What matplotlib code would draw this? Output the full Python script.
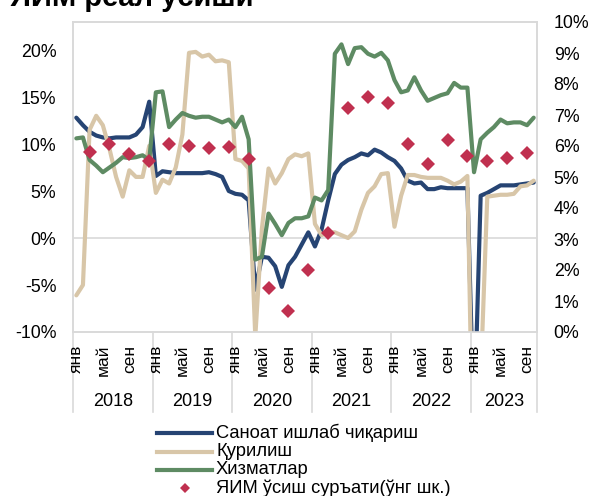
import numpy as np
import matplotlib
matplotlib.use("Agg")
import matplotlib.pyplot as plt
from matplotlib.lines import Line2D
import matplotlib.transforms as mtransforms

plt.rcParams['font.family'] = ['Liberation Sans', 'DejaVu Sans']

# ---------------- data ----------------
years = ['2018', '2019', '2020', '2021', '2022', '2023']
month_labels = ['янв', 'май', 'сен']
month_label_idx = [0, 4, 8]

industry = [12.8, 12.0, 11.3, 10.9, 10.7, 10.6, 10.7, 10.7, 10.7, 11.0, 11.8, 14.5,
            6.6, 7.1, 7.0, 6.9, 6.9, 6.9, 6.9, 6.9, 7.0, 6.8, 6.5, 5.0,
            4.7, 4.6, 4.0, -5.5, -2.0, -2.1, -3.0, -5.2, -2.9, -2.0, -0.7, 0.6,
            -0.9, 0.9, 4.0, 6.8, 7.8, 8.3, 8.6, 9.0, 8.8, 9.4, 9.1, 8.6,
            8.2, 7.4, 6.1, 5.8, 5.9, 5.2, 5.2, 5.4, 5.3, 5.3, 5.3, 5.3,
            -20.0, 4.5, 4.8, 5.2, 5.6, 5.6, 5.6, 5.7, 5.8, 5.9]

construction = [-6.1, -5.0, 11.5, 13.0, 12.0, 9.5, 6.5, 4.4, 7.2, 6.5, 6.5, 9.8,
                4.8, 6.2, 5.8, 7.5, 11.0, 19.7, 19.8, 19.3, 19.5, 18.8, 18.9, 18.7,
                8.4, 8.2, 7.4, -10.5, 1.0, 7.4, 5.8, 6.9, 8.4, 8.9, 8.7, 9.0,
                1.5, 0.3, 0.6, 0.6, 0.3, 0.0, 0.7, 3.0, 4.8, 5.5, 6.8, 6.9,
                1.2, 4.5, 6.7, 6.7, 6.5, 6.4, 6.4, 6.4, 6.1, 5.7, 6.0, 6.6,
                -30.0, -15.0, 4.4, 4.5, 4.6, 4.6, 4.7, 5.5, 5.6, 6.1]

services = [10.6, 10.7, 8.3, 7.7, 7.0, 7.5, 8.0, 8.6, 8.5, 8.6, 8.8, 8.3,
            15.5, 15.6, 11.8, 12.6, 13.3, 13.0, 12.8, 12.9, 12.9, 12.6, 12.3, 12.6,
            11.8, 12.9, 10.5, -2.3, -2.0, 2.6, 1.5, 0.3, 1.6, 2.1, 2.1, 2.3,
            4.3, 4.0, 5.1, 19.6, 20.6, 18.5, 20.2, 20.3, 19.6, 19.3, 19.7, 18.9,
            16.8, 15.5, 15.7, 17.1, 15.7, 14.6, 14.9, 15.2, 15.4, 16.5, 16.0, 16.0,
            7.0, 10.5, 11.2, 11.8, 12.6, 12.2, 12.3, 12.3, 12.0, 12.8]

gdp_month_idx = list(range(2, 70, 3))
gdp = [5.8, 6.06, 5.74, 5.52, 6.06, 6.0, 5.93, 5.97, 5.58, 1.42, 0.68, 2.0,
       3.19, 7.23, 7.58, 7.39, 6.06, 5.42, 6.2, 5.68, 5.52, 5.61, 5.77]

names = ['Саноат ишлаб чиқариш', 'Қурилиш', 'Хизматлар', 'ЯИМ ўсиш суръати(ўнг шк.)']
colors = ['#264473', '#D8C6A8', '#5E8B63', '#C0304F']

# ---------------- figure ----------------
W, H = 589, 496
fig = plt.figure(figsize=(W / 100, H / 100), dpi=100)
L, R, T, B = 73, 537, 22, 332
ax = fig.add_axes([L / W, 1 - B / H, (R - L) / W, (B - T) / H])
ax2 = ax.twinx()

x = np.arange(len(industry))
for series, c in zip([industry, construction, services], colors[:3]):
    ax.plot(x, series, color=c, lw=3.0, solid_joinstyle='round', solid_capstyle='round', zorder=3)

ax2.plot(gdp_month_idx, gdp, linestyle='none', marker='D', markersize=7.5,
         color=colors[3], markeredgewidth=0, zorder=5)

ax.set_xlim(-0.5, len(industry) - 0.5)
ax.set_ylim(-10, 22.98)
ax2.set_ylim(0, 10)

ax.set_yticks([-10, -5, 0, 5, 10, 15, 20])
ax.set_yticklabels([f'{v}%' for v in [-10, -5, 0, 5, 10, 15, 20]])
ax2.set_yticks(range(0, 11))
ax2.set_yticklabels([f'{v}%' for v in range(0, 11)])

ax.tick_params(axis='y', length=0, pad=12, labelsize=12.8, colors='black')
ax2.tick_params(axis='y', length=0, pad=12, labelsize=12.8, colors='black')
ax.set_xticks([])

grey = '#D9D9D9'
for a in (ax, ax2):
    for s in a.spines.values():
        s.set_color(grey)
        s.set_linewidth(1.2)

ax.axhline(0, color=grey, lw=1.2, zorder=1)

# month labels & year labels
trans = mtransforms.blended_transform_factory(ax.transData, ax.transAxes)
ph = B - T
for yi, yr in enumerate(years):
    start = yi * 12
    for ml, mi in zip(month_labels, month_label_idx):
        xi = start + mi
        if xi < len(industry):
            ax.text(xi, -13 / ph, ml, rotation=90, ha='center', va='top',
                    fontsize=12.5, transform=trans)
    end = min(start + 12, len(industry))
    ax.text((start - 0.5 + end - 0.5) / 2, -70 / ph, yr, ha='center', va='center',
            fontsize=13, transform=trans)

for bx in list(range(0, len(industry), 12)) + [len(industry)]:
    ax.add_line(Line2D([bx - 0.5, bx - 0.5], [0, -80 / ph], transform=trans,
                       color=grey, lw=1.2, clip_on=False))

# title (partly cut off at top)
fig.text(10 / W, 1 - 6 / H, 'ЯИМ реал ўсиши', fontsize=21, fontweight='bold',
         ha='left', va='baseline')

# legend (manual)
rows = [433, 452, 470, 488]
for i in range(3):
    fig.add_artist(Line2D([157 / W, 212 / W], [1 - rows[i] / H] * 2, color=colors[i],
                          lw=3.0, transform=fig.transFigure))
fig.add_artist(Line2D([185 / W], [1 - rows[3] / H], marker='D', markersize=5.5,
                      color=colors[3], markeredgewidth=0, linestyle='none',
                      transform=fig.transFigure))
for i, n in enumerate(names):
    fig.text(216 / W, 1 - rows[i] / H, n, fontsize=13.2, ha='left', va='center')

fig.savefig('out.png', dpi=100)
